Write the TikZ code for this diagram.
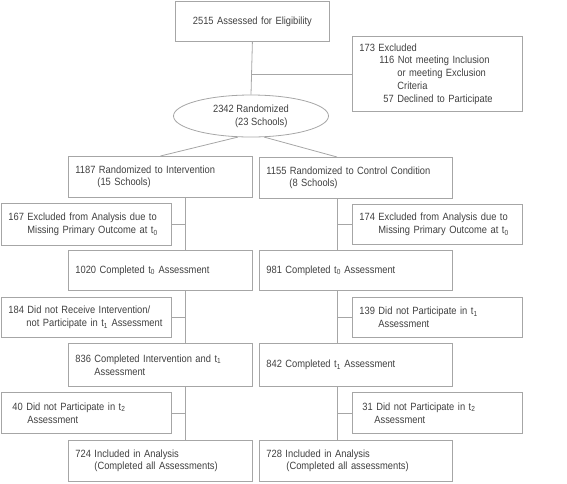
\documentclass[tikz,border=0pt]{standalone}
\usepackage{fontspec}
\setmainfont{Liberation Sans}[FakeStretch=0.89]
\usepackage{tikz}
\usetikzlibrary{shapes}

\begin{document}
\begin{tikzpicture}[x=1pt,y=-1pt,font=\fontsize{10.5}{12.7}\selectfont,
  outline/.style={draw=edge,line width=0.8pt,text=ink,anchor=north west,align=left,
    inner xsep=7pt,minimum height=41pt,text width=#1},
  link/.style={draw=edge,line width=0.8pt}]
  \definecolor{edge}{rgb}{0.65,0.65,0.65};
  \definecolor{ink}{rgb}{0.25,0.25,0.25};
  \useasboundingbox (0,0) rectangle (567,483);
	% enrollment
	\node [outline=140pt,align=center,minimum height=40pt] (assess) at (175,1) {2515 Assessed for Eligibility};
	\node [outline=156pt,minimum height=75pt] (excl) at (352,36) {173 Excluded\\\hspace*{20pt}116 Not meeting Inclusion\\\hspace*{38pt}or meeting Exclusion\\\hspace*{38pt}Criteria\\\hspace*{24pt}57 Declined to Participate};
	\node [ellipse,draw=edge,line width=0.8pt,text=ink,align=left,minimum width=155pt,minimum height=42pt,inner sep=0pt] (rand) at (251,116) {2342 Randomized\\\hspace*{22pt}(23 Schools)};
	% allocation
	\node [outline=170pt] (intv) at (68,156) {1187 Randomized to Intervention\\\hspace*{22pt}(15 Schools)};
	\node [outline=179pt] (ctrl) at (259,157) {1155 Randomized to Control Condition\\\hspace*{23pt}(8 Schools)};
	% intervention arm
	\node [outline=156pt,minimum height=42pt] (lossA) at (1,203) {167 Excluded from Analysis due to\\\hspace*{19pt}Missing Primary Outcome at t\textsubscript{0}};
	\node [outline=170pt,minimum height=40pt] (baseA) at (68,250) {1020 Completed t\textsubscript{0} Assessment};
	\node [outline=156pt,minimum height=40pt] (dropA) at (1,297) {184 Did not Receive Intervention/\\\hspace*{18pt}\mbox{not Participate in t\textsubscript{1} Assessment}};
	\node [outline=170pt,minimum height=43pt] (postA) at (68,343) {836 Completed Intervention and t\textsubscript{1}\\\hspace*{19pt}Assessment};
	\node [outline=156pt] (missA) at (1,392) {\hspace*{4pt}40 Did not Participate in t\textsubscript{2}\\\hspace*{19pt}Assessment};
	\node [outline=170pt] (finA) at (68,440) {724 Included in Analysis\\\hspace*{19pt}(Completed all Assessments)};
	% control arm
	\node [outline=156pt,minimum height=40pt] (lossB) at (352,204) {174 Excluded from Analysis due to\\\hspace*{19pt}Missing Primary Outcome at t\textsubscript{0}};
	\node [outline=179pt,minimum height=40pt] (baseB) at (259,250) {981 Completed t\textsubscript{0} Assessment};
	\node [outline=156pt,minimum height=40pt] (dropB) at (352,297) {139 Did not Participate in t\textsubscript{1}\\\hspace*{19pt}Assessment};
	\node [outline=179pt,minimum height=43pt] (postB) at (259,343) {842 Completed t\textsubscript{1} Assessment};
	\node [outline=156pt] (missB) at (352,392) {\hspace*{3pt}31 Did not Participate in t\textsubscript{2}\\\hspace*{15pt}Assessment};
	\node [outline=179pt] (finB) at (259,440) {728 Included in Analysis\\\hspace*{20pt}(Completed all assessments)};
	% connectors
	\coordinate (lx) at (185,0);
	\coordinate (rx) at (337,0);
	\draw [link] (assess.south) -- (rand.north);
	\draw [link] (assess.south |- excl.west) -- (excl.west);
	\draw [link] (rand.238) -- (intv.north);
	\draw [link] (rand.302) -- (ctrl.north -| rx);
	\draw [link] (intv.south -| lx) -- (baseA.north -| lx) (baseA.south -| lx) -- (postA.north -| lx) (postA.south -| lx) -- (finA.north -| lx);
	\draw [link] (lossA.east) -- (lossA.east -| lx) (dropA.east) -- (dropA.east -| lx) (missA.east) -- (missA.east -| lx);
	\draw [link] (ctrl.south -| rx) -- (baseB.north -| rx) (baseB.south -| rx) -- (postB.north -| rx) (postB.south -| rx) -- (finB.north -| rx);
	\draw [link] (lossB.west) -- (lossB.west -| rx) (dropB.west) -- (dropB.west -| rx) (missB.west) -- (missB.west -| rx);
\end{tikzpicture}
\end{document}
